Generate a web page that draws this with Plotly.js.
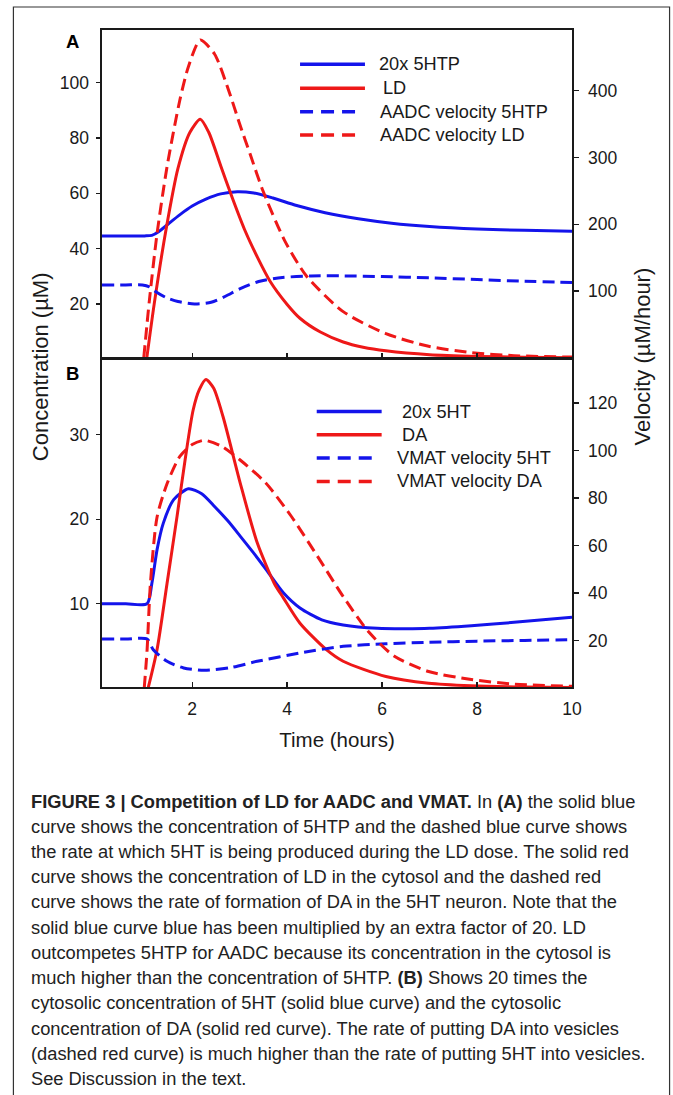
<!DOCTYPE html>
<html><head><meta charset="utf-8">
<script src="https://cdn.plot.ly/plotly-3.0.1.min.js"></script>
<style>html,body{margin:0;padding:0;background:#fff;}#chart{width:673px;height:1095px;}</style>
</head><body><div id="chart"></div>
<script>
// ---------- Panel A data ----------
const tA_5HTP      = [0.1, 0.6, 1.0, 1.15, 1.3, 1.5, 1.75, 2.0, 2.3, 2.6, 2.95, 3.3, 3.7, 4.2, 4.8, 5.5, 6.2, 7.0, 8.0, 9.0, 10];
const conc20x5HTP  = [44.6, 44.6, 44.6, 44.8, 46.2, 49.0, 52.4, 55.4, 58.0, 59.8, 60.6, 60.1, 58.3, 55.6, 53.0, 50.8, 49.2, 48.0, 47.1, 46.6, 46.3];

const tA_LD        = [1.04, 1.2, 1.45, 1.7, 1.95, 2.17, 2.35, 2.6, 2.83, 3.1, 3.37, 3.64, 4.0, 4.27, 4.7, 5.18, 5.6, 6.08, 7.0, 8.0, 9.0, 10];
const concLD       = [0, 20, 47, 69, 82, 86.8, 82, 70, 59, 47, 37, 28.2, 19.8, 14.8, 9.8, 6.2, 4.3, 3.0, 1.6, 1.0, 0.7, 0.5];

const tA_v5HTP     = [0.1, 0.6, 0.95, 1.1, 1.25, 1.45, 1.7, 2.05, 2.4, 2.7, 3.0, 3.4, 3.9, 4.5, 5.2, 6.0, 7.0, 8.0, 9.0, 10];
const aadcVel5HTP  = [109, 109, 109, 106, 98, 90, 84, 80.5, 83, 92, 103, 114, 120, 122.5, 122.5, 121.5, 119.5, 117, 114.5, 112.5];

const tA_vLD       = [0.98, 1.1, 1.26, 1.47, 1.74, 1.92, 2.17, 2.47, 2.77, 3.0, 3.22, 3.49, 3.95, 4.41, 5.18, 6.08, 6.98, 7.88, 8.78, 10];
const aadcVelLD    = [0, 87, 186, 286, 386, 436, 476, 455, 400, 350, 305, 250, 175, 122, 69, 36, 17, 7.5, 3, 0.8];

// ---------- Panel B data ----------
const tB_5HT       = [0.1, 0.6, 1.05, 1.15, 1.26, 1.39, 1.61, 1.92, 2.2, 2.47, 2.75, 3.01, 3.28, 3.55, 3.92, 4.27, 4.73, 5.18, 5.9, 6.5, 7.0, 7.88, 8.78, 10];
const conc20x5HT   = [10, 10, 10, 12.4, 16.4, 19.5, 22.3, 23.6, 23.0, 21.5, 19.8, 18.0, 16.1, 14.1, 11.3, 9.5, 8.1, 7.5, 7.1, 7.05, 7.1, 7.4, 7.8, 8.4];

const tB_DA        = [1.07, 1.26, 1.47, 1.68, 1.85, 2.02, 2.15, 2.29, 2.45, 2.65, 3.01, 3.37, 3.73, 3.92, 4.27, 4.82, 5.18, 6.08, 6.98, 7.88, 9.0, 10];
const concDA       = [0, 4.6, 12.4, 20.3, 27, 32.9, 35.3, 36.5, 35.5, 32.1, 24.3, 17.2, 12.4, 10.7, 7.7, 4.6, 3.2, 1.4, 0.6, 0.3, 0.15, 0.1];

const tB_v5HT      = [0.1, 0.6, 1.05, 1.18, 1.47, 1.82, 2.25, 2.8, 3.37, 4.27, 5.18, 6.08, 6.98, 8.0, 9.0, 10];
const vmatVel5HT   = [20.6, 20.6, 20.6, 16.1, 11.2, 8.4, 7.4, 8.5, 11.2, 14.7, 17.5, 18.6, 19.2, 19.7, 20.0, 20.3];

const tB_vDA       = [0.99, 1.05, 1.12, 1.26, 1.47, 1.74, 2.0, 2.25, 2.6, 3.01, 3.55, 4.09, 4.64, 5.18, 5.72, 6.26, 6.98, 7.88, 8.78, 10];
const vmatVelDA    = [0, 16, 44, 72, 86, 97.5, 102.5, 104.3, 102, 96, 86.3, 72.2, 55.4, 38.5, 23.5, 13.3, 6.9, 3.5, 1.6, 0.7];

// ---------- Labels ----------
const legendNamesA = ['20x 5HTP', 'LD', 'AADC velocity 5HTP', 'AADC velocity LD'];
const legendNamesB = ['20x 5HT', 'DA', 'VMAT velocity 5HT', 'VMAT velocity DA'];
const xTicks       = [2, 4, 6, 8, 10];
const yTicksA      = [20, 40, 60, 80, 100];
const yTicksA2     = [100, 200, 300, 400];
const yTicksB      = [10, 20, 30];
const yTicksB2     = [20, 40, 60, 80, 100, 120];
const captionLines = [
  '<b>FIGURE 3 | Competition of LD for AADC and VMAT.</b> In <b>(A)</b> the solid blue',
  'curve shows the concentration of 5HTP and the dashed blue curve shows',
  'the rate at which 5HT is being produced during the LD dose. The solid red',
  'curve shows the concentration of LD in the cytosol and the dashed red',
  'curve shows the rate of formation of DA in the 5HT neuron. Note that the',
  'solid blue curve blue has been multiplied by an extra factor of 20. LD',
  'outcompetes 5HTP for AADC because its concentration in the cytosol is',
  'much higher than the concentration of 5HTP. <b>(B)</b> Shows 20 times the',
  'cytosolic concentration of 5HT (solid blue curve) and the cytosolic',
  'concentration of DA (solid red curve). The rate of putting DA into vesicles',
  '(dashed red curve) is much higher than the rate of putting 5HT into vesicles.',
  'See Discussion in the text.'
];

// ---------- Styling ----------
const FONT = 'Liberation Sans, Arial, Helvetica, sans-serif';
const BLUE = 'rgb(20,20,235)', RED = 'rgb(238,24,24)', INK = '#1a1a1a';
const DASH = '12px,6px';
const PL = 101.7, PR = 572.3, PT = 30, PB = 687.3;
const px = v => (v - PL) / (PR - PL);
const py = v => (PB - v) / (PB - PT);

function tr(x, y, xa, ya, color, dash, name) {
  return {type:'scatter', mode:'lines', x, y, xaxis:xa, yaxis:ya, name,
    line:{color, width:3, dash: dash ? DASH : 'solid', shape:'spline', smoothing:0.7},
    hoverinfo:'skip', showlegend:false, cliponaxis:true};
}
const data = [
  tr(tA_5HTP, conc20x5HTP, 'x', 'y', BLUE, false, legendNamesA[0]),
  tr(tA_LD, concLD, 'x', 'y', RED, false, legendNamesA[1]),
  tr(tA_v5HTP, aadcVel5HTP, 'x', 'y2', BLUE, true, legendNamesA[2]),
  tr(tA_vLD, aadcVelLD, 'x', 'y2', RED, true, legendNamesA[3]),
  tr(tB_5HT, conc20x5HT, 'x2', 'y3', BLUE, false, legendNamesB[0]),
  tr(tB_DA, concDA, 'x2', 'y3', RED, false, legendNamesB[1]),
  tr(tB_v5HT, vmatVel5HT, 'x2', 'y4', BLUE, true, legendNamesB[2]),
  tr(tB_vDA, vmatVelDA, 'x2', 'y4', RED, true, legendNamesB[3])
];

const TICKSIZE = 17.5;
const axLine = {showline:true, linecolor:'#1a1a1a', linewidth:1.6, showgrid:false, zeroline:false,
  tickcolor:'#1a1a1a', tickwidth:1.3, tickfont:{family:FONT, size:TICKSIZE, color:INK}};
const domB = (PB - 358.3) / (PB - PT);

const layout = {
  width:673, height:1095,
  margin:{l:PL, r:673-PR, t:PT, b:1095-PB, pad:0},
  paper_bgcolor:'#fff', plot_bgcolor:'#fff', showlegend:false,
  font:{family:FONT, size:TICKSIZE, color:INK},
  xaxis: Object.assign({}, axLine, {domain:[0,1], anchor:'y', range:[0.1,10], tickvals:xTicks,
    showticklabels:false, ticks:'inside', ticklen:5, mirror:true}),
  xaxis2: Object.assign({}, axLine, {domain:[0,1], anchor:'y3', range:[0.1,10], tickvals:xTicks,
    ticks:'inside', ticklen:5, mirror:true, ticklabelstandoff:5,
    title:{text:'Time (hours)', font:{family:FONT, size:20.5, color:INK}, standoff:15}}),
  yaxis: Object.assign({}, axLine, {domain:[domB,1], anchor:'x', range:[0.36,119.1], tickvals:yTicksA,
    ticks:'outside', ticklen:4, ticklabelstandoff:4}),
  yaxis2: Object.assign({}, axLine, {overlaying:'y', side:'right', anchor:'x', range:[-0.75,490.9], tickvals:yTicksA2,
    ticks:'outside', ticklen:5, ticklabelstandoff:6}),
  yaxis3: Object.assign({}, axLine, {domain:[0,domB], anchor:'x2', range:[0.16,39.03], tickvals:yTicksB,
    ticks:'outside', ticklen:4, ticklabelstandoff:4}),
  yaxis4: Object.assign({}, axLine, {overlaying:'y3', side:'right', anchor:'x2', range:[0.38,138.9], tickvals:yTicksB2,
    ticks:'outside', ticklen:5, ticklabelstandoff:6}),
  shapes: [], annotations: []
};

// outer figure frame
layout.shapes.push({type:'rect', xref:'paper', yref:'paper', x0:px(13), x1:px(670), y0:py(1110), y1:py(7),
  line:{color:'#333', width:1.2}, fillcolor:'rgba(0,0,0,0)', layer:'below'});

// panel letters
layout.annotations.push({xref:'paper', yref:'paper', x:px(72), y:py(42), text:'<b>A</b>', showarrow:false,
  font:{family:FONT, size:18.5, color:'#000'}, xanchor:'center', yanchor:'middle'});
layout.annotations.push({xref:'paper', yref:'paper', x:px(72), y:py(373.5), text:'<b>B</b>', showarrow:false,
  font:{family:FONT, size:18.5, color:'#000'}, xanchor:'center', yanchor:'middle'});

// manual legends
function addLegend(names, rows, x0, x1solid, x1dash, textX) {
  const colors = [BLUE, RED, BLUE, RED];
  names.forEach((n, i) => {
    const dashed = i >= 2;
    layout.shapes.push({type:'line', xref:'paper', yref:'paper', x0:px(x0), x1:px(dashed ? x1dash : x1solid),
      y0:py(rows[i]), y1:py(rows[i]), line:{color:colors[i], width:3.5, dash: dashed ? '13px,8px' : 'solid'}});
    layout.annotations.push({xref:'paper', yref:'paper', x:px(textX[i]), y:py(rows[i]), text:n, showarrow:false,
      xanchor:'left', yanchor:'middle', font:{family:FONT, size:18.2, color:INK}, borderpad:0});
  });
}
addLegend(legendNamesA, [64.3, 88.3, 111.7, 135], 300, 365, 357, [378, 382, 379, 379]);
addLegend(legendNamesB, [411.7, 435, 458.3, 481.7], 316.7, 381.7, 373.3, [401, 401, 396, 396]);

// y axis titles (shared across both panels)
layout.annotations.push({xref:'paper', yref:'paper', x:px(40), y:py(367), text:'Concentration (\u00b5M)', textangle:-90,
  showarrow:false, xanchor:'center', yanchor:'middle', font:{family:FONT, size:22, color:INK}});
layout.annotations.push({xref:'paper', yref:'paper', x:px(643), y:py(357), text:'Velocity (\u00b5M/hour)', textangle:-90,
  showarrow:false, xanchor:'center', yanchor:'middle', font:{family:FONT, size:22, color:INK}});

// caption
const capY = [802, 827, 852, 877, 902, 928, 953, 978, 1003, 1029, 1054, 1079];
captionLines.forEach((t, i) => {
  layout.annotations.push({xref:'paper', yref:'paper', x:px(30), y:py(capY[i]), text:t, showarrow:false,
    xanchor:'left', yanchor:'middle', align:'left', borderpad:0, font:{family:FONT, size:18.3, color:'#222'}});
});

Plotly.newPlot('chart', data, layout, {staticPlot:true, displayModeBar:false});
</script>
</body></html>
